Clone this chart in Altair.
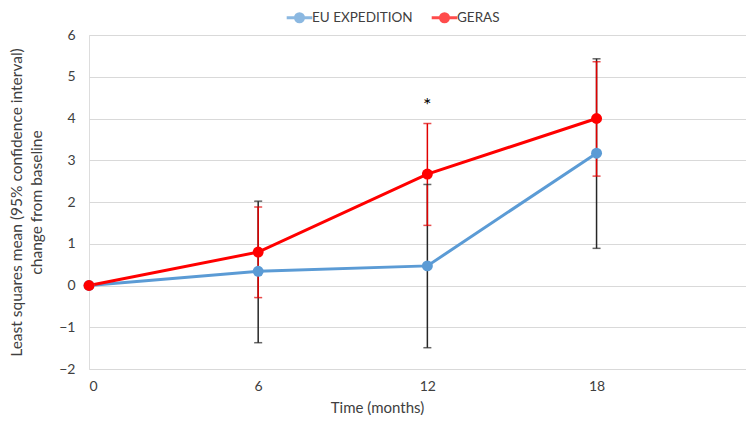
import altair as alt
import pandas as pd

months = [0, 6, 12, 18]
series_names = ["EU EXPEDITION", "GERAS"]
eu_mean = [0.0, 0.34, 0.47, 3.17]
eu_lo = [0.0, -1.37, -1.49, 0.89]
eu_hi = [0.0, 2.02, 2.42, 5.43]
geras_mean = [0.0, 0.80, 2.67, 4.00]
geras_lo = [0.0, -0.29, 1.44, 2.62]
geras_hi = [0.0, 1.88, 3.88, 5.36]
line_colors = ["#5B9BD5", "#FF0000"]
bar_colors = ["#262626", "#E00000"]
star_month = [12]
star_y = [4.3]

rows = []
for name, m, lo, hi, bc in [
    (series_names[0], eu_mean, eu_lo, eu_hi, bar_colors[0]),
    (series_names[1], geras_mean, geras_lo, geras_hi, bar_colors[1]),
]:
    for t, v, l, h in zip(months, m, lo, hi):
        rows.append({"series": name, "time": t, "value": v, "lo": l, "hi": h, "barcolor": bc})
df = pd.DataFrame(rows)
err_df = df[df["time"] > 0]

font = "Lato"
txt = "#404040"
xscale = alt.Scale(domain=[0, 23.3], nice=False, zero=False)
yscale = alt.Scale(domain=[-2, 6], nice=False)
legend_symbol = "M-1.6,0L1.6,0M0.5,0A0.5,0.5,0,1,1,-0.5,0A0.5,0.5,0,1,1,0.5,0Z"
color = alt.Color("series:N", scale=alt.Scale(domain=series_names, range=line_colors),
                  legend=alt.Legend(title=None, orient="none", direction="horizontal",
                                    legendX=201, legendY=-27,
                                    labelFont=font, labelFontSize=13.5, labelColor=txt,
                                    symbolType=legend_symbol, symbolSize=256, symbolStrokeWidth=3,
                                    labelOffset=3, columnPadding=12, padding=0))

base = alt.Chart(df)
x = alt.X("time:Q", scale=xscale,
          axis=alt.Axis(title="Time (months)", values=months, grid=False, domain=False, ticks=False,
                        labelPadding=10, titlePadding=7, labelFont=font, titleFont=font,
                        labelFontSize=14, titleFontSize=15, titleFontWeight="normal",
                        labelColor=txt, titleColor=txt, titleX=288))
y = alt.Y("value:Q", scale=yscale,
          axis=alt.Axis(title=["Least squares mean (95% confidence interval)", "change from baseline"],
                        values=list(range(-2, 7)), grid=True, gridColor="#D9D9D9", domain=False,
                        ticks=False, labelPadding=14, titlePadding=14, labelFont=font, titleFont=font,
                        labelFontSize=14, titleFontSize=15.5, titleFontWeight="normal",
                        titleLineHeight=20, labelColor=txt, titleColor=txt))

err_base = alt.Chart(err_df)
rules = err_base.mark_rule(strokeWidth=1.5).encode(
    x=alt.X("time:Q", scale=xscale), y=alt.Y("lo:Q", scale=yscale), y2="hi:Q",
    color=alt.Color("barcolor:N", scale=None))
cap_lo = err_base.mark_tick(orient="horizontal", size=8, thickness=1.5).encode(
    x=alt.X("time:Q", scale=xscale), y=alt.Y("lo:Q", scale=yscale),
    color=alt.Color("barcolor:N", scale=None))
cap_hi = err_base.mark_tick(orient="horizontal", size=8, thickness=1.5).encode(
    x=alt.X("time:Q", scale=xscale), y=alt.Y("hi:Q", scale=yscale),
    color=alt.Color("barcolor:N", scale=None))

lines = base.mark_line(strokeWidth=3).encode(x=x, y=y, color=color, order="time:Q")
points = base.mark_point(filled=True, opacity=1, size=120).encode(x=x, y=y, color=color)

star_df = pd.DataFrame({"time": star_month, "value": star_y, "label": ["*"]})
star = alt.Chart(star_df).mark_text(fontSize=20, font=font, color="#000000").encode(
    x=alt.X("time:Q", scale=xscale), y=alt.Y("value:Q", scale=yscale), text="label:N")

chart = alt.layer(lines, rules, cap_lo, cap_hi, points, star).properties(
    width=657, height=334, padding={"left": 1, "top": 0, "right": 0, "bottom": 0}
).configure_view(stroke=None).configure(background="white")

chart.save("out.html", embed_options={"renderer": "svg", "actions": False})
